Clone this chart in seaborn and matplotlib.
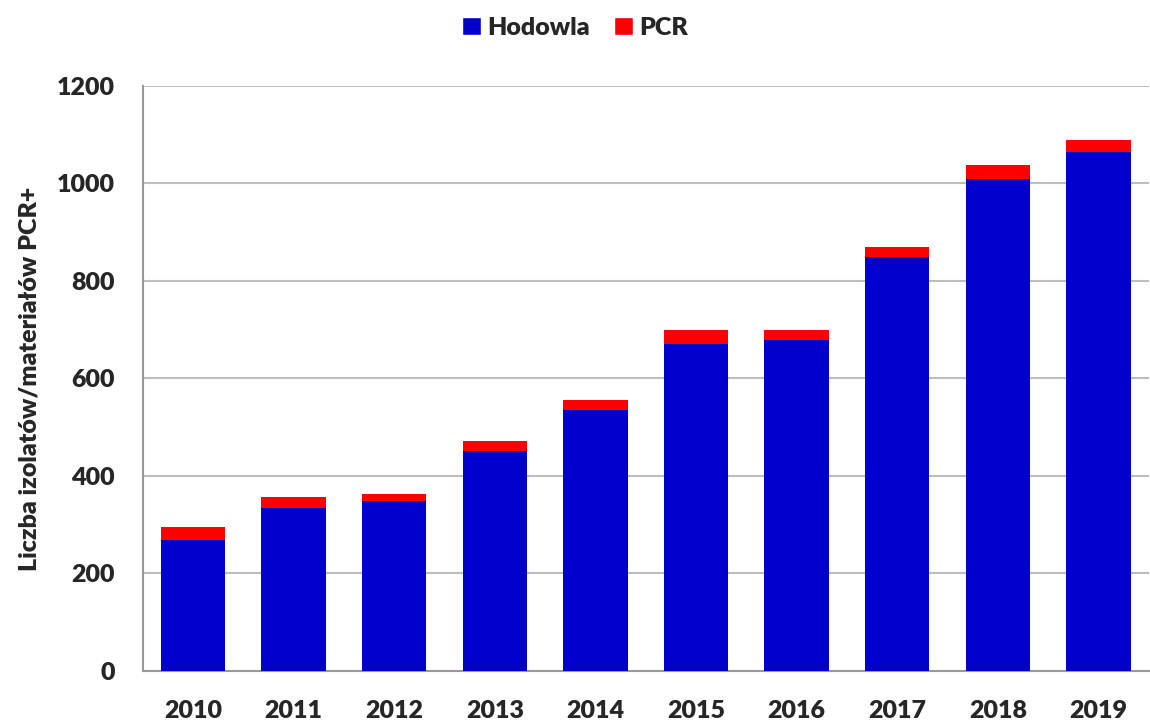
import numpy as np
import pandas as pd
import matplotlib
matplotlib.use("Agg")
import matplotlib.pyplot as plt
import seaborn as sns
from matplotlib.patches import Patch

years = ["2010", "2011", "2012", "2013", "2014", "2015", "2016", "2017", "2018", "2019"]
hodowla = [268, 335, 348, 451, 535, 670, 678, 849, 1010, 1064]
pcr = [28, 21, 16, 21, 20, 29, 21, 20, 28, 26]
y_ticks = [0, 200, 400, 600, 800, 1000, 1200]

BLUE = "#0000CC"
RED = "#FF0000"


def build_frame():
    df = pd.DataFrame({"rok": years, "Hodowla": hodowla, "PCR": pcr})
    df["razem"] = df["Hodowla"] + df["PCR"]
    return df


def draw(df):
    sns.set_style("white")
    plt.rcParams["font.family"] = ["Lato", "DejaVu Sans"]
    plt.rcParams["font.weight"] = "bold"

    fig = plt.figure(figsize=(11.5, 7.25), dpi=100)
    ax = fig.add_axes([0.124, 0.0745, 0.875, 0.807])

    # stacked bars: total in red, Hodowla in blue over it
    sns.barplot(data=df, x="rok", y="razem", color=RED, width=0.64,
                saturation=1, linewidth=0, ax=ax, zorder=3)
    sns.barplot(data=df, x="rok", y="Hodowla", color=BLUE, width=0.64,
                saturation=1, linewidth=0, ax=ax, zorder=4)

    ax.set_ylim(0, 1200)
    ax.set_xlim(-0.5, len(years) - 0.5)
    ax.set_yticks(y_ticks)
    ax.yaxis.grid(True, color="#bdbdbd", linewidth=1.5, zorder=0)
    ax.set_axisbelow(True)

    for s in ["top", "right"]:
        ax.spines[s].set_visible(False)
    for s in ["left", "bottom"]:
        ax.spines[s].set_color("#999999")
        ax.spines[s].set_linewidth(1.5)

    # ticks at category boundaries like Excel
    ax.set_xticks(np.arange(-0.5, len(years), 1.0), minor=True)
    ax.tick_params(axis="x", which="major", length=0, pad=21, labelsize=18)
    ax.tick_params(axis="x", which="minor", length=6, width=1.5, color="#999999", direction="out")
    ax.tick_params(axis="y", which="major", length=8, width=1.5, color="#999999",
                   direction="out", labelsize=18, pad=12)
    for lbl in ax.get_xticklabels() + ax.get_yticklabels():
        lbl.set_fontweight("heavy")

    ax.set_xlabel("")
    ax.set_ylabel("Liczba izolatów/materiałów PCR+", fontsize=18, fontweight="heavy", labelpad=12)

    handles = [Patch(facecolor=BLUE, label="Hodowla"), Patch(facecolor=RED, label="PCR")]
    fig.legend(handles=handles, loc="center", bbox_to_anchor=(0.5, 0.962), ncol=2,
               frameon=False, handlelength=0.75, handleheight=0.75,
               handletextpad=0.25, columnspacing=1.0, prop={"weight": "heavy", "size": 18})

    fig.savefig("out.png", dpi=100)


def main():
    df = build_frame()
    draw(df)


if __name__ == "__main__":
    main()
